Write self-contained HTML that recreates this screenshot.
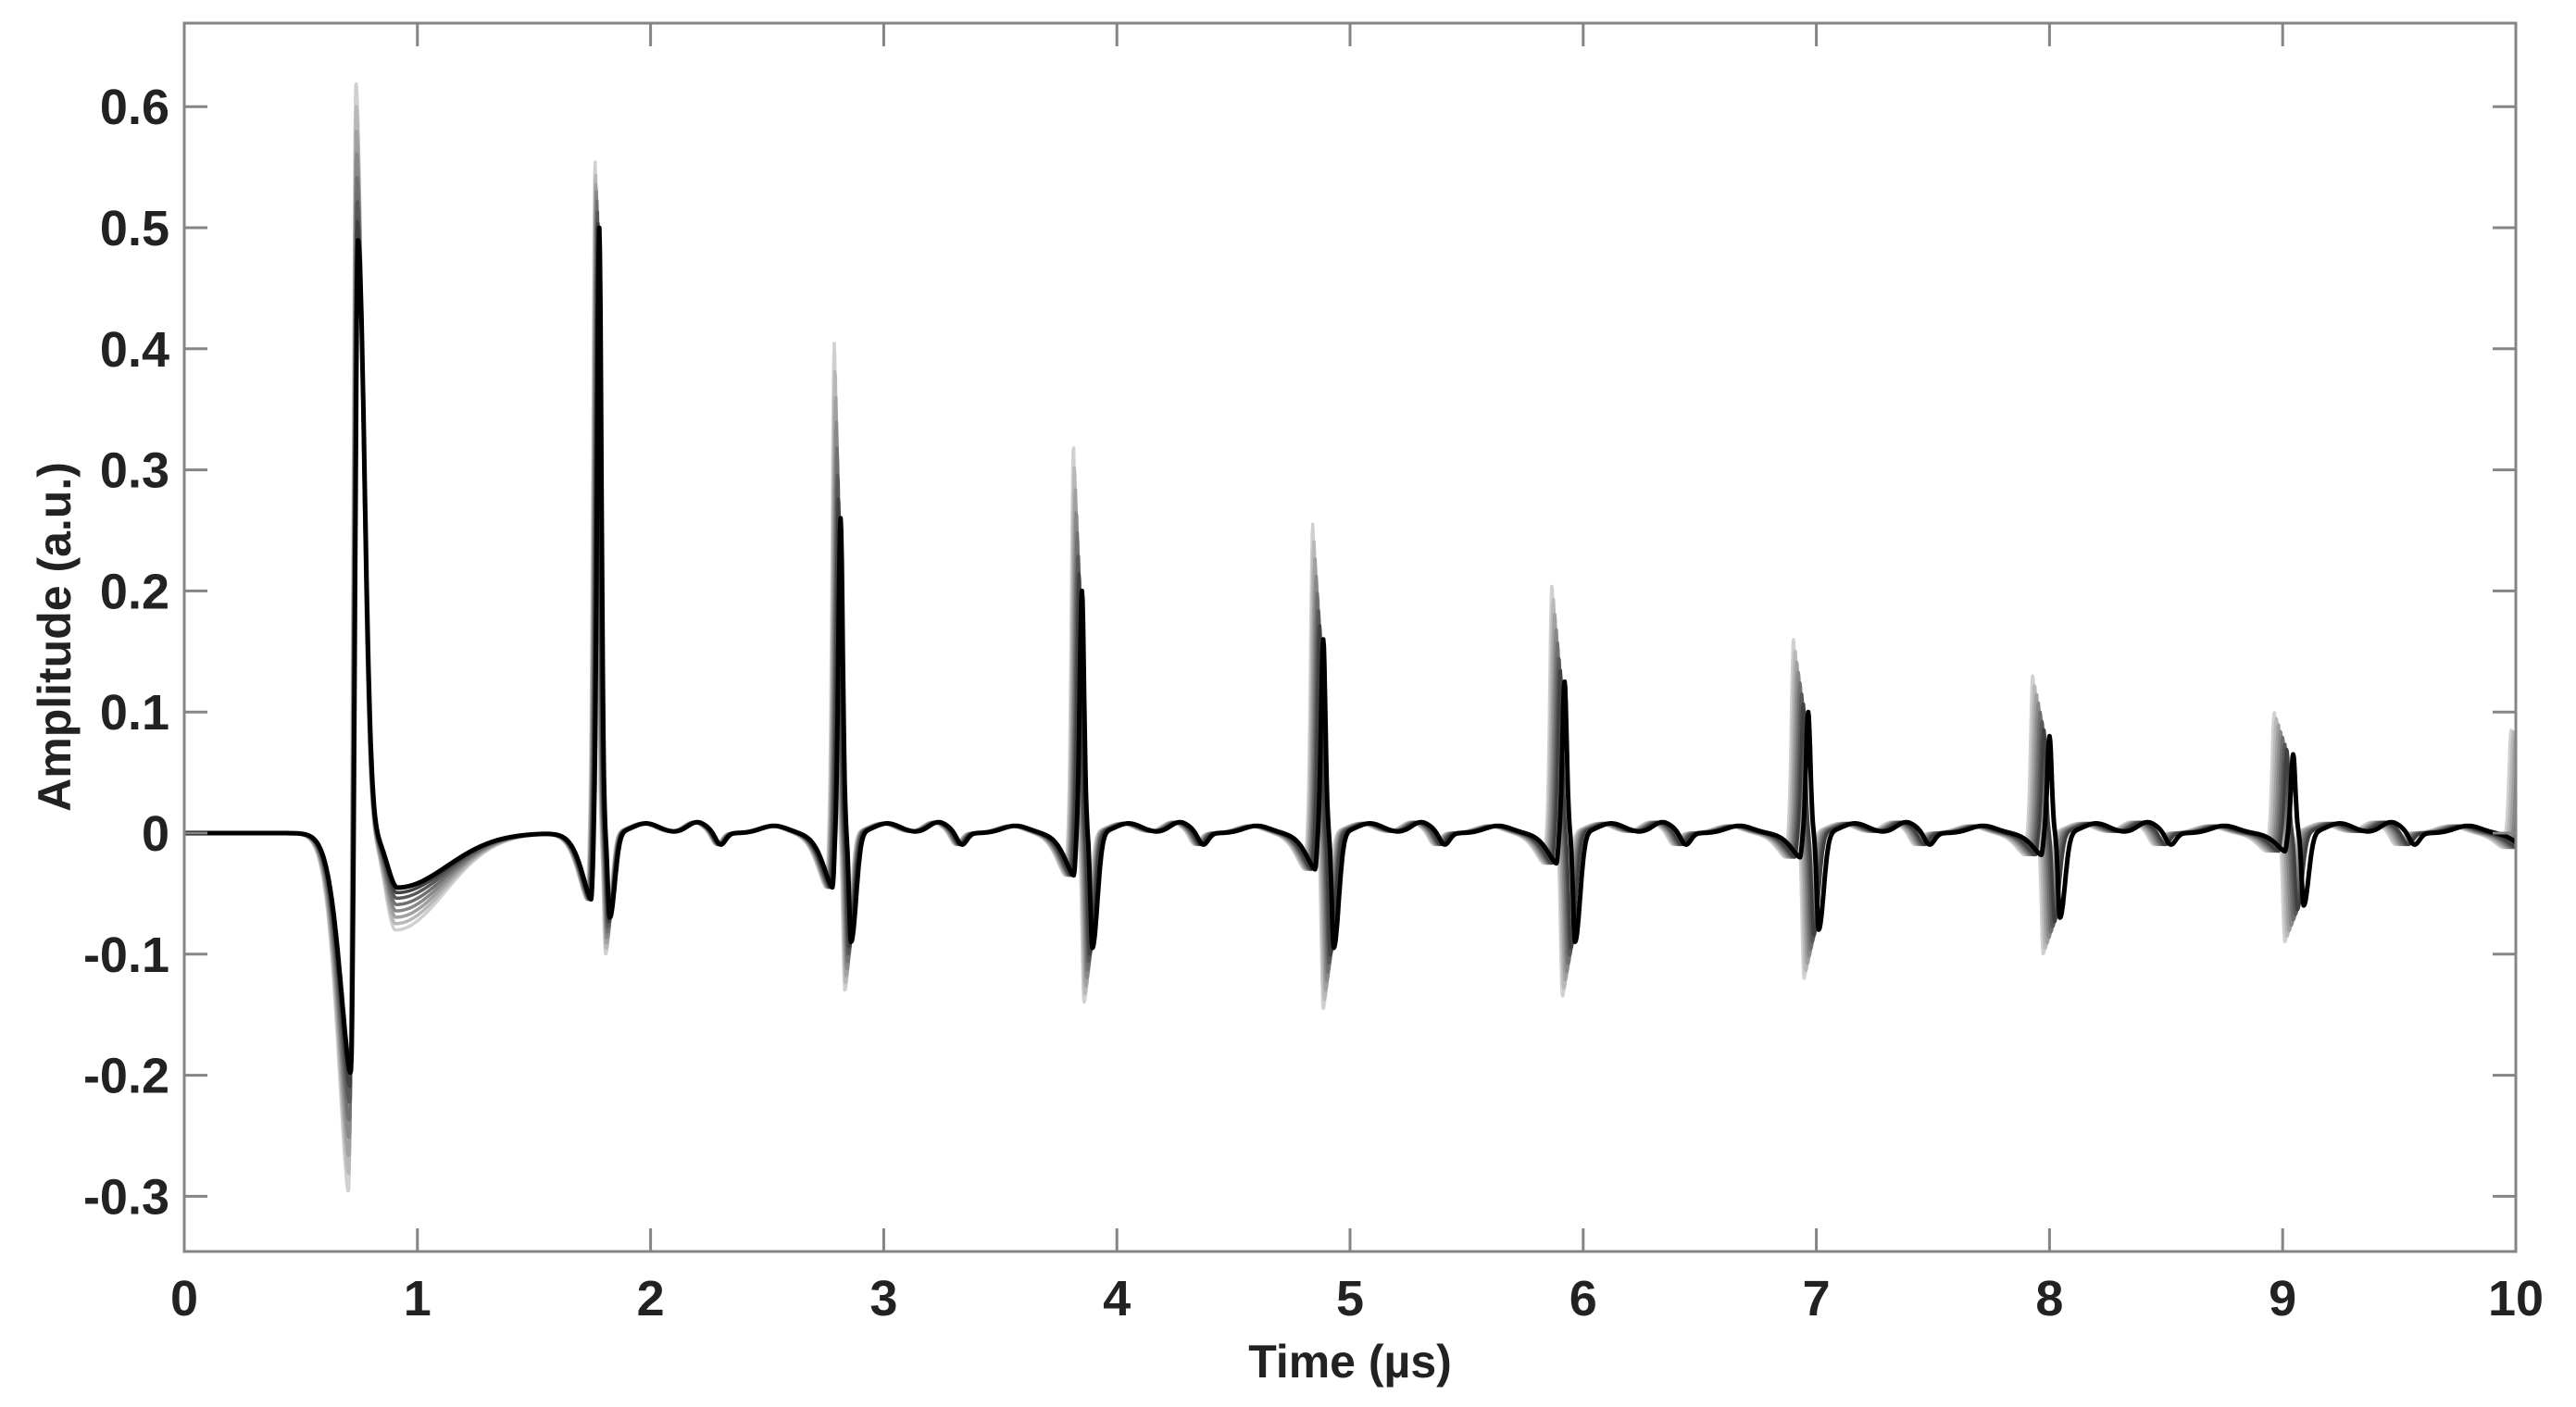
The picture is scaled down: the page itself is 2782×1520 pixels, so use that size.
<!DOCTYPE html>
<html><head><meta charset="utf-8"><title>Echo train</title>
<style>
html,body{margin:0;padding:0;background:#fff;}
svg{display:block;}
text{font-family:"Liberation Sans",Arial,sans-serif;font-weight:bold;fill:#222;}
</style></head>
<body>
<svg id="chart" width="2782" height="1520" viewBox="0 0 2782 1520">
  <rect x="0" y="0" width="2782" height="1520" fill="#fff"/>
  <g id="plot"></g>
  <g id="axes"></g>
  <text x="1458" y="1488" font-size="50" text-anchor="middle">Time (µs)</text>
  <text transform="translate(76,688) rotate(-90)" font-size="50" text-anchor="middle">Amplitude (a.u.)</text>
</svg>
<script>
// ---- data ----
const xTicks = [0,1,2,3,4,5,6,7,8,9,10];
const yTicks = [-0.3,-0.2,-0.1,0,0.1,0.2,0.3,0.4,0.5,0.6];
const yTickLabels = ["-0.3","-0.2","-0.1","0","0.1","0.2","0.3","0.4","0.5","0.6"];
const echoTimes = [0.74,1.77,2.80,3.83,4.86,5.89,6.93,7.96,9.00,10.02];
const echoPeakMax = [0.62,0.555,0.405,0.32,0.255,0.205,0.16,0.13,0.10,0.085];
const echoPeakMin = [0.49,0.50,0.26,0.20,0.16,0.125,0.10,0.08,0.065,0.075];
const echoPreDip = [-0.30,-0.055,-0.045,-0.035,-0.03,-0.025,-0.02,-0.018,-0.015,-0.012];
const echoPostDipMax = [-0.08,-0.10,-0.13,-0.14,-0.145,-0.135,-0.12,-0.10,-0.09,-0.06];
const echoPostDipMin = [-0.045,-0.07,-0.09,-0.095,-0.095,-0.09,-0.08,-0.07,-0.06,-0.05];
const traceGrey = ["#d0d0d0","#b8b8b8","#a0a0a0","#888888","#707070","#585858","#404040","#000000"];
const traceLevel = [1.0,0.85,0.7,0.55,0.4,0.25,0.12,0.0];
const traceShift = [-0.004,-0.003,-0.002,-0.001,0.0,0.001,0.002,0.005];

// ---- axis functions ----
const X0=199, X1=2717, Y0=25, Y1=1352;
const xScale = t => X0 + (t/10)*(X1-X0);
const yScale = v => 900 - v*1308;
const NS='http://www.w3.org/2000/svg';
const axes=document.getElementById('axes'), plot=document.getElementById('plot');
function mk(tag,attrs,parent){const e=document.createElementNS(NS,tag);for(const k in attrs)e.setAttribute(k,attrs[k]);parent.appendChild(e);return e;}

const defs=mk('defs',{},document.getElementById('chart'));
const cp=mk('clipPath',{id:'clip'},defs);
mk('rect',{x:X0,y:Y0,width:X1-X0,height:Y1-Y0},cp);
plot.setAttribute('clip-path','url(#clip)');

function wave(t, lvl, sh){
  let v=0;
  for(let k=0;k<echoTimes.length;k++){
    const t0=echoTimes[k]+sh*(k+1);
    const A=echoPeakMin[k]+(echoPeakMax[k]-echoPeakMin[k])*lvl;
    const P=echoPreDip[k]*(k===0?(0.67+0.33*lvl):1);
    const D=echoPostDipMin[k]+(echoPostDipMax[k]-echoPostDipMin[k])*lvl;
    const d=t-t0;
    if(k===0){
      const dd=d+0.03;
      v+= P*(dd<0?Math.exp(-Math.pow(-dd/0.07,1.6)):Math.exp(-Math.pow(dd/0.012,2)));
      v+= A*(d<0?Math.exp(-Math.pow(d/0.014,2)):Math.exp(-Math.pow(d/0.04,2)));
      const du=t-(t0+0.17);
      v+= D*(du<0?Math.exp(-Math.pow(du/0.06,2)):Math.exp(-Math.pow(du/0.3,2)));
    } else {
      const dd=d+0.035;
      v+= P*(dd<0?Math.exp(-Math.pow(-dd/0.06,1.5)):Math.exp(-Math.pow(dd/0.01,2)));
      v+= A*Math.exp(-Math.pow(d/0.013,2));
      const dp=d-0.045;
      v+= D*(dp<0?Math.exp(-Math.pow(dp/0.012,2)):Math.exp(-Math.pow(dp/0.03,2)));
      v+= 0.008*Math.exp(-Math.pow((d-0.2)/0.08,2));
      v+= 0.009*Math.exp(-Math.pow((d-0.42)/0.06,2));
      v+= -0.01*Math.exp(-Math.pow((d-0.52)/0.03,2));
      v+= 0.006*Math.exp(-Math.pow((d-0.75)/0.08,2));
    }
  }
  return v;
}

for(let j=0;j<traceGrey.length;j++){
  let pts=[];
  for(let t=0;t<=10.05;t+=0.0025){
    pts.push(xScale(t).toFixed(1)+','+yScale(wave(t,traceLevel[j],traceShift[j])).toFixed(1));
  }
  const pl=mk('polyline',{points:pts.join(' '),fill:'none',stroke:traceGrey[j],'stroke-width':j===traceGrey.length-1?5:3.5,'stroke-linejoin':'round'},plot);
  
  
}

const fr=mk('rect',{x:X0,y:Y0,width:X1-X0,height:Y1-Y0,fill:'none',stroke:'#858585','stroke-width':3},axes);



xTicks.forEach(v=>{
  const x=xScale(v);
  mk('line',{x1:x,y1:Y1,x2:x,y2:Y1-25,stroke:'#858585','stroke-width':3},axes);
  mk('line',{x1:x,y1:Y0,x2:x,y2:Y0+25,stroke:'#858585','stroke-width':3},axes);
  const tx=mk('text',{x:x,y:1421,'font-size':54,'text-anchor':'middle'},axes);
  tx.textContent=String(v);
  
  
});
yTicks.forEach((v,i)=>{
  const y=yScale(v);
  mk('line',{x1:X0,y1:y,x2:X0+25,y2:y,stroke:'#858585','stroke-width':3},axes);
  mk('line',{x1:X1,y1:y,x2:X1-25,y2:y,stroke:'#858585','stroke-width':3},axes);
  const tx=mk('text',{x:183,y:y+19,'font-size':54,'text-anchor':'end'},axes);
  tx.textContent=yTickLabels[i];
  
  
});
</script>
</body></html>
